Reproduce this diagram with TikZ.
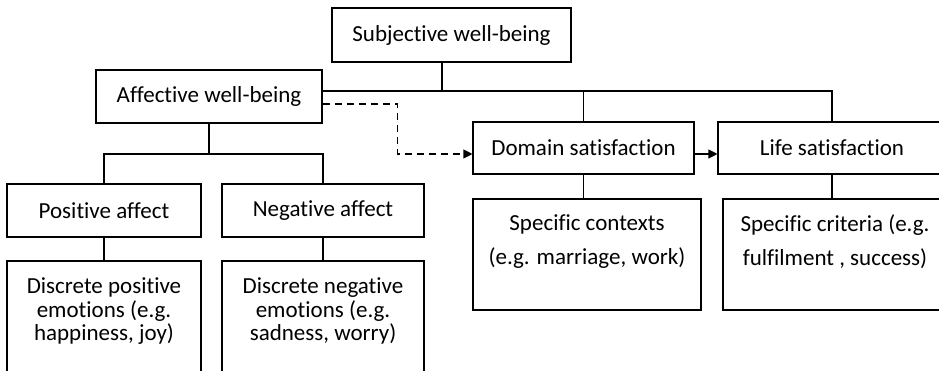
\documentclass[tikz,border=0pt]{standalone}
\usepackage{fontspec}
\setmainfont{Carlito}[Ligatures=NoCommon]
\usetikzlibrary{positioning,arrows.meta}

\begin{document}
\begin{tikzpicture}[x=1pt,y=-1pt,line width=1.1pt,
		font=\fontsize{23}{23.5}\selectfont,
		box/.style={draw,rectangle,inner sep=0pt,align=center},
		txt/.style={inner sep=0pt,align=center,anchor=north}]
		\useasboundingbox (0,0) rectangle (939,371);
		% top level
		\node[box,minimum width=239,minimum height=54] (swb) at (451.5,35) {Subjective well-being};
		\node[box,minimum width=226,minimum height=53] (awb) at (209,96.5) {Affective well-being};
		\node[box,minimum width=221,minimum height=52] (dom) at (583.5,148) {Domain satisfaction};
		\node[box,minimum width=228,minimum height=52] (life) at (832,148) {Life satisfaction};
		% affect
		\node[box,minimum width=194,minimum height=53] (pos) at (104,210.5) {Positive affect};
		\node[box,minimum width=202,minimum height=53] (neg) at (323,210.5) {Negative affect};
		\node[box,minimum width=194,minimum height=130] (dpos) at (104,326) {};
		\node[box,minimum width=202,minimum height=130] (dneg) at (323,326) {};
		\node[txt,below=17pt of dpos.north] (dpostxt) {Discrete positive\\emotions (e.g.\\happiness, joy)};
		\node[txt,below=17pt of dneg.north] (dnegtxt) {Discrete negative\\emotions (e.g.\\sadness, worry)};
		% satisfaction
		\node[box,minimum width=228,minimum height=111] (ctx) at (587,254.5) {};
		\node[box,minimum width=224,minimum height=111] (crit) at (835,254.5) {};
		\node[txt,below=16pt of ctx.north] (ctxtxt) {Specific contexts\\[10.5pt](e.g. marriage, work)};
		\node[txt,below=16pt of crit.north] (crittxt) {Specific criteria (e.g.\\[10.5pt]fulfilment , success)};
		% connectors
		\coordinate (top) at (442,91);
		\coordinate (split) at (209,154);
		\draw (swb.south -| top) to (top);
		\draw (awb.east |- top) -| (life.north);
		\draw (dom.north |- top) to (dom.north);
		\draw (awb.south) to (split);
		\draw (pos.north) -- (pos.north |- split) -- (neg.north |- split) -- (neg.north);
		\draw (pos.south) to (dpos.north);
		\draw (neg.south) to (dneg.north);
		\draw (dom.south) to (dom.south |- ctx.north);
		\draw (life.south) to (life.south |- crit.north);
		\draw[dash pattern=on 7pt off 5pt,-{Triangle[length=9pt,width=9pt]}] ([yshift=-7.5pt]awb.east) -- ++(75,0) |- ([yshift=-6pt]dom.west);
		\draw[-{Triangle[length=9pt,width=9pt]}] ([yshift=-6pt]dom.east) to ([yshift=-6pt]life.west);
\end{tikzpicture}
\end{document}
